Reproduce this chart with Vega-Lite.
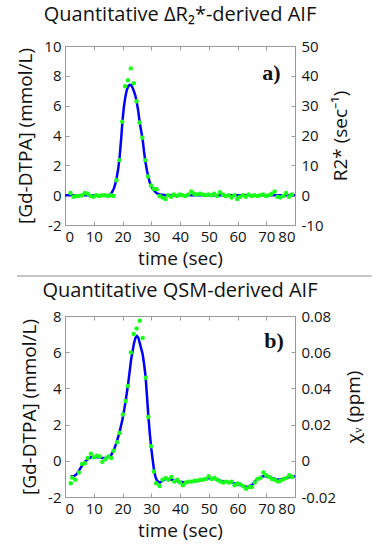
{
  "$schema": "https://vega.github.io/schema/vega-lite/v6.json",
  "padding": {"left": 15, "top": 4, "right": 4, "bottom": 2},
  "background": "white",
  "spacing": 2,
  "config": {
    "font": "Open Sans",
    "view": {"stroke": "#9a9a9a", "strokeWidth": 1},
    "axis": {
      "grid": false,
      "labelFont": "Open Sans",
      "labelFontSize": 15,
      "labelColor": "#111",
      "titleFont": "Open Sans",
      "titleFontSize": 19,
      "titleFontWeight": "normal",
      "titleColor": "#111",
      "domainColor": "#9a9a9a",
      "tickColor": "#9a9a9a",
      "tickSize": -4,
      "labelPadding": 10,
      "titlePadding": 6
    },
    "axisLeft": {"labelPadding": 8, "titlePadding": 8},
    "axisRight": {"labelPadding": 10, "titlePadding": 9, "titleAngle": 270, "titleBaseline": "top"},
    "axisBottom": {"labelPadding": 8, "titlePadding": 5},
    "title": {"font": "Open Sans", "fontSize": 20, "fontWeight": "normal", "color": "#111"}
  },
  "datasets": {
    "a_pts": [
      {"t": 1.9, "v": 0.15}, {"t": 2.9, "v": -0.1}, {"t": 3.9, "v": -0.05}, {"t": 4.9, "v": -0.05}, {"t": 5.9, "v": 0.0},
      {"t": 6.9, "v": 0.15}, {"t": 7.9, "v": 0.1}, {"t": 8.9, "v": -0.05}, {"t": 9.9, "v": -0.1}, {"t": 10.9, "v": 0.0},
      {"t": 11.9, "v": -0.05}, {"t": 12.9, "v": 0.0}, {"t": 13.9, "v": 0.0}, {"t": 14.9, "v": -0.05}, {"t": 15.9, "v": 0.0},
      {"t": 16.9, "v": -0.05}, {"t": 17.9, "v": 1.0}, {"t": 18.9, "v": 2.35}, {"t": 19.9, "v": 4.93}, {"t": 20.9, "v": 7.3},
      {"t": 21.9, "v": 7.7}, {"t": 22.9, "v": 8.5}, {"t": 23.9, "v": 7.5}, {"t": 24.9, "v": 6.3}, {"t": 25.9, "v": 4.87},
      {"t": 26.9, "v": 3.85}, {"t": 27.9, "v": 2.35}, {"t": 28.9, "v": 1.25}, {"t": 29.9, "v": 0.65}, {"t": 30.9, "v": 0.42},
      {"t": 31.9, "v": 0.4}, {"t": 32.9, "v": -0.05}, {"t": 33.9, "v": -0.15}, {"t": 34.9, "v": -0.25}, {"t": 35.9, "v": 0.0},
      {"t": 36.9, "v": -0.1}, {"t": 37.9, "v": 0.05}, {"t": 38.9, "v": -0.05}, {"t": 39.9, "v": 0.05}, {"t": 40.9, "v": 0.0},
      {"t": 41.9, "v": -0.05}, {"t": 42.9, "v": 0.05}, {"t": 43.9, "v": 0.25}, {"t": 44.9, "v": 0.1}, {"t": 45.9, "v": 0.05},
      {"t": 46.9, "v": 0.1}, {"t": 47.9, "v": 0.05}, {"t": 48.9, "v": 0.0}, {"t": 49.9, "v": 0.05}, {"t": 50.9, "v": 0.0},
      {"t": 51.9, "v": 0.1}, {"t": 52.9, "v": -0.05}, {"t": 53.9, "v": 0.2}, {"t": 54.9, "v": 0.05}, {"t": 55.9, "v": -0.05},
      {"t": 56.9, "v": 0.0}, {"t": 57.9, "v": -0.15}, {"t": 58.9, "v": 0.0}, {"t": 59.9, "v": -0.25}, {"t": 60.9, "v": -0.1},
      {"t": 61.9, "v": 0.0}, {"t": 62.9, "v": -0.1}, {"t": 63.9, "v": 0.05}, {"t": 64.9, "v": -0.05}, {"t": 65.9, "v": 0.0},
      {"t": 66.9, "v": -0.05}, {"t": 67.9, "v": 0.0}, {"t": 68.9, "v": 0.05}, {"t": 69.9, "v": -0.05}, {"t": 70.9, "v": 0.0},
      {"t": 71.9, "v": 0.1}, {"t": 72.9, "v": 0.25}, {"t": 73.9, "v": -0.1}, {"t": 74.9, "v": -0.15}, {"t": 75.9, "v": -0.05},
      {"t": 76.9, "v": 0.15}, {"t": 77.9, "v": -0.1}, {"t": 78.9, "v": 0.05}
    ],
    "a_fit": [
      {"t": 0, "v": 0}, {"t": 15, "v": 0}, {"t": 15.5, "v": 0.03}, {"t": 16, "v": 0.1}, {"t": 16.5, "v": 0.25},
      {"t": 17, "v": 0.45}, {"t": 17.5, "v": 0.75}, {"t": 18, "v": 1.2}, {"t": 18.5, "v": 1.75}, {"t": 19, "v": 2.55},
      {"t": 19.5, "v": 3.7}, {"t": 20, "v": 5.0}, {"t": 20.5, "v": 5.95}, {"t": 21, "v": 6.6}, {"t": 21.5, "v": 7.05},
      {"t": 22, "v": 7.3}, {"t": 22.5, "v": 7.4}, {"t": 23, "v": 7.38}, {"t": 23.5, "v": 7.2}, {"t": 24, "v": 6.95},
      {"t": 24.5, "v": 6.65}, {"t": 25, "v": 6.2}, {"t": 25.5, "v": 5.6}, {"t": 26, "v": 4.85}, {"t": 26.5, "v": 4.3},
      {"t": 27, "v": 3.75}, {"t": 27.5, "v": 2.9}, {"t": 28, "v": 2.2}, {"t": 28.5, "v": 1.65}, {"t": 29, "v": 1.2},
      {"t": 29.5, "v": 0.85}, {"t": 30, "v": 0.6}, {"t": 30.5, "v": 0.42}, {"t": 31, "v": 0.3}, {"t": 31.5, "v": 0.2},
      {"t": 32, "v": 0.12}, {"t": 33, "v": 0.05}, {"t": 34, "v": 0.02}, {"t": 35, "v": 0}, {"t": 80, "v": 0}
    ],
    "b_pts": [
      {"t": 2.0, "v": -1.24}, {"t": 2.5, "v": -0.93}, {"t": 3.6, "v": -1.05}, {"t": 4.8, "v": -0.65}, {"t": 5.9, "v": -0.17},
      {"t": 6.9, "v": -0.13}, {"t": 7.9, "v": 0.15}, {"t": 9.0, "v": 0.39}, {"t": 10.0, "v": 0.2}, {"t": 11.1, "v": 0.28},
      {"t": 12.1, "v": 0.24}, {"t": 13.0, "v": -0.06}, {"t": 14.0, "v": 0.09}, {"t": 15.1, "v": 0.24}, {"t": 16.1, "v": 0.15},
      {"t": 16.9, "v": 0.55}, {"t": 18.1, "v": 1.02}, {"t": 19.0, "v": 1.54}, {"t": 20.1, "v": 2.56}, {"t": 21.1, "v": 3.3},
      {"t": 21.9, "v": 4.13}, {"t": 22.9, "v": 5.98}, {"t": 23.9, "v": 7.0}, {"t": 24.9, "v": 7.31}, {"t": 26.0, "v": 7.74},
      {"t": 27.0, "v": 6.78}, {"t": 28.1, "v": 4.59}, {"t": 29.0, "v": 2.42}, {"t": 29.9, "v": 0.8}, {"t": 30.9, "v": -0.59},
      {"t": 31.7, "v": -1.24}, {"t": 32.9, "v": -1.39}, {"t": 33.9, "v": -1.05}, {"t": 35.0, "v": -0.95}, {"t": 36.0, "v": -1.05},
      {"t": 37.0, "v": -0.9}, {"t": 38.0, "v": -1.15}, {"t": 39.0, "v": -1.05}, {"t": 40.0, "v": -1.2}, {"t": 41.0, "v": -1.35},
      {"t": 42.0, "v": -1.2}, {"t": 43.0, "v": -1.15}, {"t": 44.0, "v": -1.15}, {"t": 45.0, "v": -1.1}, {"t": 46.0, "v": -1.1},
      {"t": 47.0, "v": -1.05}, {"t": 48.0, "v": -1.05}, {"t": 49.0, "v": -1.0}, {"t": 50.0, "v": -0.85}, {"t": 51.0, "v": -1.0},
      {"t": 52.0, "v": -0.95}, {"t": 53.0, "v": -1.05}, {"t": 54.0, "v": -1.15}, {"t": 55.0, "v": -1.2}, {"t": 56.0, "v": -1.15},
      {"t": 57.0, "v": -1.2}, {"t": 58.0, "v": -1.15}, {"t": 59.0, "v": -1.35}, {"t": 60.0, "v": -1.25}, {"t": 61.0, "v": -1.3},
      {"t": 62.0, "v": -1.4}, {"t": 63.0, "v": -1.55}, {"t": 64.0, "v": -1.45}, {"t": 65.0, "v": -1.45}, {"t": 66.0, "v": -1.2},
      {"t": 67.0, "v": -1.0}, {"t": 68.0, "v": -0.95}, {"t": 69.0, "v": -0.65}, {"t": 70.0, "v": -0.8}, {"t": 71.0, "v": -0.9},
      {"t": 72.0, "v": -1.0}, {"t": 73.0, "v": -1.05}, {"t": 74.0, "v": -1.15}, {"t": 75.0, "v": -1.1}, {"t": 76.0, "v": -1.0},
      {"t": 77.0, "v": -0.95}, {"t": 78.0, "v": -0.8}, {"t": 79.0, "v": -0.9}
    ],
    "b_fit": [
      {"t": 2, "v": -0.85}, {"t": 3, "v": -0.85}, {"t": 4, "v": -0.75}, {"t": 5, "v": -0.5}, {"t": 6, "v": -0.25},
      {"t": 7, "v": -0.05}, {"t": 8, "v": 0.1}, {"t": 9, "v": 0.2}, {"t": 10, "v": 0.2}, {"t": 11, "v": 0.2},
      {"t": 12, "v": 0.2}, {"t": 13, "v": 0.15}, {"t": 14, "v": 0.15}, {"t": 15, "v": 0.2}, {"t": 16, "v": 0.3},
      {"t": 17, "v": 0.6}, {"t": 18, "v": 1.05}, {"t": 19, "v": 1.6}, {"t": 20, "v": 2.3}, {"t": 21, "v": 3.2},
      {"t": 22, "v": 4.3}, {"t": 23, "v": 5.6}, {"t": 24, "v": 6.5}, {"t": 24.5, "v": 6.8}, {"t": 25, "v": 6.9},
      {"t": 25.5, "v": 6.8}, {"t": 26, "v": 6.5}, {"t": 26.5, "v": 6.2}, {"t": 27, "v": 5.9}, {"t": 27.5, "v": 5.35},
      {"t": 28, "v": 4.7}, {"t": 28.5, "v": 3.6}, {"t": 29, "v": 2.45}, {"t": 29.5, "v": 1.5}, {"t": 30, "v": 0.7},
      {"t": 30.5, "v": 0.05}, {"t": 31, "v": -0.55}, {"t": 31.5, "v": -0.9}, {"t": 32, "v": -1.1}, {"t": 33, "v": -1.2},
      {"t": 34, "v": -1.1}, {"t": 35, "v": -1.0}, {"t": 36, "v": -1.0}, {"t": 37, "v": -1.05}, {"t": 38, "v": -1.1},
      {"t": 40, "v": -1.15}, {"t": 42, "v": -1.2}, {"t": 44, "v": -1.15}, {"t": 46, "v": -1.1}, {"t": 48, "v": -1.05},
      {"t": 50, "v": -0.95}, {"t": 52, "v": -1.0}, {"t": 54, "v": -1.1}, {"t": 56, "v": -1.15}, {"t": 58, "v": -1.2},
      {"t": 60, "v": -1.3}, {"t": 62, "v": -1.4}, {"t": 63, "v": -1.45}, {"t": 64, "v": -1.4}, {"t": 65, "v": -1.35},
      {"t": 66, "v": -1.15}, {"t": 67, "v": -1.0}, {"t": 68, "v": -0.9}, {"t": 69, "v": -0.85}, {"t": 70, "v": -0.85},
      {"t": 72, "v": -0.95}, {"t": 74, "v": -1.05}, {"t": 76, "v": -1.0}, {"t": 78, "v": -0.9}, {"t": 80, "v": -0.85}
    ]
  },
  "vconcat": [
    {
      "width": 230,
      "height": 179,
      "title": {"text": "Quantitative ΔR₂*-derived AIF", "offset": 14},
      "resolve": {"axis": {"x": "independent", "y": "independent"}},
      "layer": [
        {
          "data": {"name": "a_fit"},
          "mark": {"type": "line", "color": "#0000ff", "strokeWidth": 2.5},
          "encoding": {
            "x": {"field": "t", "type": "quantitative", "scale": {"domain": [0, 80]},
                  "axis": {"orient": "bottom", "values": [0, 10, 20, 30, 40, 50, 60, 70, 80], "title": "time (sec)", "labelExpr": "'' + datum.value"}},
            "y": {"field": "v", "type": "quantitative", "scale": {"domain": [-2, 10]},
                  "axis": {"orient": "left", "values": [-2, 0, 2, 4, 6, 8, 10], "title": "[Gd-DTPA] (mmol/L)", "labelExpr": "'' + datum.value"}}
          }
        },
        {
          "data": {"name": "a_pts"},
          "mark": {"type": "point", "filled": true, "shape": "circle", "size": 20, "color": "#1aff1a", "opacity": 1},
          "encoding": {
            "x": {"field": "t", "type": "quantitative", "scale": {"domain": [0, 80]},
                  "axis": {"orient": "top", "values": [0, 10, 20, 30, 40, 50, 60, 70, 80], "labels": false, "title": null}},
            "y": {"field": "v", "type": "quantitative", "scale": {"domain": [-2, 10]},
                  "axis": {"orient": "right", "values": [-2, 0, 2, 4, 6, 8, 10], "title": "R2* (sec⁻¹)", "labelExpr": "'' + (datum.value * 5)"}}
          }
        },
        {
          "data": {"values": [{}]},
          "mark": {"type": "text", "text": "a)", "font": "Liberation Serif", "fontWeight": "bold", "fontSize": 22, "color": "#111"},
          "encoding": {
            "x": {"datum": 71.8, "type": "quantitative", "axis": null},
            "y": {"datum": 8.2, "type": "quantitative", "axis": null}
          }
        },
        {
          "data": {"values": [{}]},
          "mark": {"type": "rule", "color": "#8a8a8a", "strokeWidth": 1},
          "encoding": {
            "x": {"datum": -16.7, "type": "quantitative", "axis": null},
            "x2": {"datum": 106.7},
            "y": {"datum": -5.42, "type": "quantitative", "axis": null}
          }
        }
      ]
    },
    {
      "width": 230,
      "height": 181,
      "title": {"text": "Quantitative QSM-derived AIF", "offset": 8},
      "resolve": {"axis": {"x": "independent", "y": "independent"}},
      "layer": [
        {
          "data": {"name": "b_fit"},
          "mark": {"type": "line", "color": "#0000ff", "strokeWidth": 2.5},
          "encoding": {
            "x": {"field": "t", "type": "quantitative", "scale": {"domain": [0, 80]},
                  "axis": {"orient": "bottom", "values": [0, 10, 20, 30, 40, 50, 60, 70, 80], "title": "time (sec)", "labelExpr": "'' + datum.value"}},
            "y": {"field": "v", "type": "quantitative", "scale": {"domain": [-2, 8]},
                  "axis": {"orient": "left", "values": [-2, 0, 2, 4, 6, 8], "title": "[Gd-DTPA] (mmol/L)", "labelExpr": "'' + datum.value"}}
          }
        },
        {
          "data": {"name": "b_pts"},
          "mark": {"type": "point", "filled": true, "shape": "circle", "size": 20, "color": "#1aff1a", "opacity": 1},
          "encoding": {
            "x": {"field": "t", "type": "quantitative", "scale": {"domain": [0, 80]},
                  "axis": {"orient": "top", "values": [0, 10, 20, 30, 40, 50, 60, 70, 80], "labels": false, "title": null}},
            "y": {"field": "v", "type": "quantitative", "scale": {"domain": [-2, 8]},
                  "axis": {"orient": "right", "values": [-2, 0, 2, 4, 6, 8], "title": "χᵥ (ppm)", "labelExpr": "datum.value == 0 ? '0' : replace(format(datum.value / 100, '.2f'), '−', '-')"}}
          }
        },
        {
          "data": {"values": [{}]},
          "mark": {"type": "text", "text": "b)", "font": "Liberation Serif", "fontWeight": "bold", "fontSize": 22, "color": "#111"},
          "encoding": {
            "x": {"datum": 72.7, "type": "quantitative", "axis": null},
            "y": {"datum": 6.63, "type": "quantitative", "axis": null}
          }
        }
      ]
    }
  ]
}
